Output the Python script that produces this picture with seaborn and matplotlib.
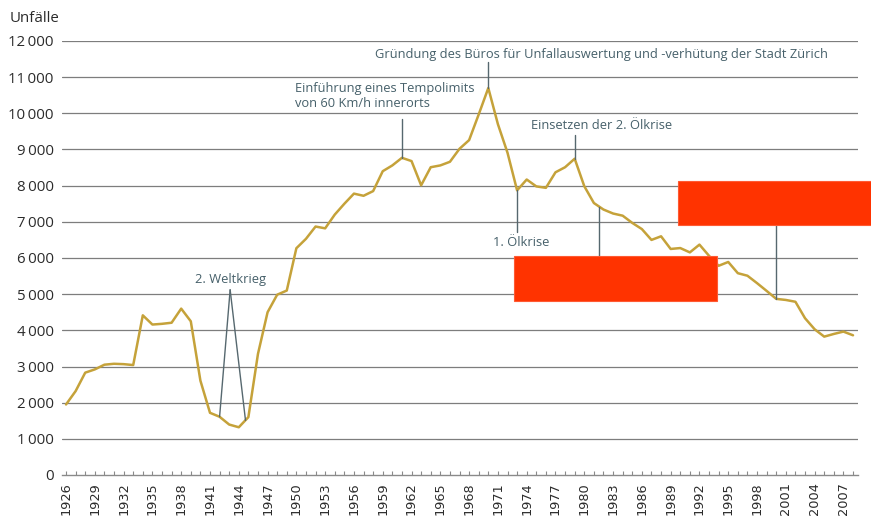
import matplotlib
matplotlib.use("Agg")
import matplotlib.pyplot as plt
from matplotlib.patches import Rectangle
from matplotlib.ticker import MultipleLocator
import seaborn as sns
import pandas as pd

years = list(range(1926, 2009))
unfaelle = [1950, 2320, 2830, 2920, 3050, 3075, 3065, 3040, 4415, 4160,
            4180, 4210, 4600, 4250, 2610, 1720, 1610, 1395, 1320, 1600,
            3350, 4500, 4985, 5100, 6270, 6530, 6870, 6820, 7200, 7500,
            7780, 7720, 7850, 8400, 8560, 8770, 8680, 8010, 8510, 8560,
            8660, 9020, 9260, 9970, 10700, 9700, 8910, 7870, 8170, 7980,
            7940, 8370, 8510, 8745, 7985, 7520, 7340, 7230, 7170, 6970,
            6800, 6500, 6600, 6250, 6275, 6155, 6370, 6060, 5785, 5890,
            5580, 5510, 5305, 5090, 4870, 4840, 4790, 4335, 4030, 3826,
            3900, 3965, 3863]
y_ticks = [0, 1000, 2000, 3000, 4000, 5000, 6000, 7000, 8000, 9000, 10000, 11000, 12000]
y_labels = ["0", "1\u2009000", "2\u2009000", "3\u2009000", "4\u2009000", "5\u2009000",
            "6\u2009000", "7\u2009000", "8\u2009000", "9\u2009000", "10\u2009000",
            "11\u2009000", "12\u2009000"]
x_label_years = list(range(1926, 2009, 3))
y_title = "Unfälle"

annotations = [
    ("Gründung des Büros für Unfallauswertung und -verhütung der Stadt Zürich", 1958.2, 11630, "left"),
    ("Einführung eines Tempolimits\nvon 60 Km/h innerorts", 1949.9, 10480, "left"),
    ("Einsetzen der 2. Ölkrise", 1974.5, 9670, "left"),
    ("1. Ölkrise", 1970.45, 6430, "left"),
    ("2. Weltkrieg", 1943.1, 5410, "center"),
]
leader_lines = [
    ((1970, 1970), (11410, 10700)),
    ((1961, 1961), (9834, 8770)),
    ((1979, 1979), (9390, 8745)),
    ((1973, 1973), (7870, 6720)),
    ((1943.1, 1942), (5120, 1610)),
    ((1943.1, 1944.7), (5120, 1510)),
    ((1981.55, 1981.55), (6044, 7420)),
    ((2000, 2000), (6910, 4870)),
]
red_boxes = [
    (1972.67, 4808, 21.11, 1236),
    (1989.75, 6910, 20.5, 1228),
]

sns.set_theme(style="white")
plt.rcParams["font.family"] = ["Open Sans", "DejaVu Sans"]

df = pd.DataFrame({"Jahr": years, "Unfälle": unfaelle})

fig = plt.figure(figsize=(8.71, 5.2), dpi=100)
ax = fig.add_axes([62 / 871, 1 - 475 / 520, (858 - 62) / 871, (475 - 41) / 520])

ax.set_xlim(1925.58, 2008.52)
ax.set_ylim(0, 12000)

for yv in y_ticks[1:]:
    ax.axhline(yv, color="#7d7d7d", lw=0.9, zorder=0)

sns.lineplot(data=df, x="Jahr", y="Unfälle", ax=ax, color="#C5A23A", lw=1.8, zorder=3)

text_color = "#46606a"
for txt, x, y, ha in annotations:
    ax.text(x, y, txt, ha=ha, va="center", color=text_color, fontsize=9.3,
            linespacing=1.15, clip_on=False, zorder=5)
for xs, ys in leader_lines:
    ax.plot(xs, ys, color="#56686f", lw=1.0, zorder=4, clip_on=False)

for x0, y0, w, h in red_boxes:
    ax.add_patch(Rectangle((x0, y0), w, h, facecolor="#FF3300", edgecolor="#FF5a33",
                           lw=0.8, zorder=6, clip_on=False))

for s in ["top", "right", "left"]:
    ax.spines[s].set_visible(False)
ax.spines["bottom"].set_color("#8a8a8a")
ax.spines["bottom"].set_linewidth(1.0)

ax.set_yticks(y_ticks)
ax.set_yticklabels(y_labels, fontsize=10.8, color="#2b2b2b")
ax.tick_params(axis="y", length=0, pad=6)

ax.set_xticks(x_label_years)
ax.set_xticklabels([str(v) for v in x_label_years], rotation=90,
                   family="DejaVu Sans", fontsize=9.3, color="#2b2b2b")
ax.xaxis.set_minor_locator(MultipleLocator(1))
ax.tick_params(axis="x", which="both", direction="in", length=3.2, width=0.8,
               color="#8a8a8a", bottom=True, pad=5)
ax.set_xlabel("")
ax.set_ylabel("")

fig.text(10 / 871, 1 - 18 / 520, y_title, ha="left", va="center", fontsize=10.8, color="#2b2b2b")

fig.savefig("out.png", dpi=100)
